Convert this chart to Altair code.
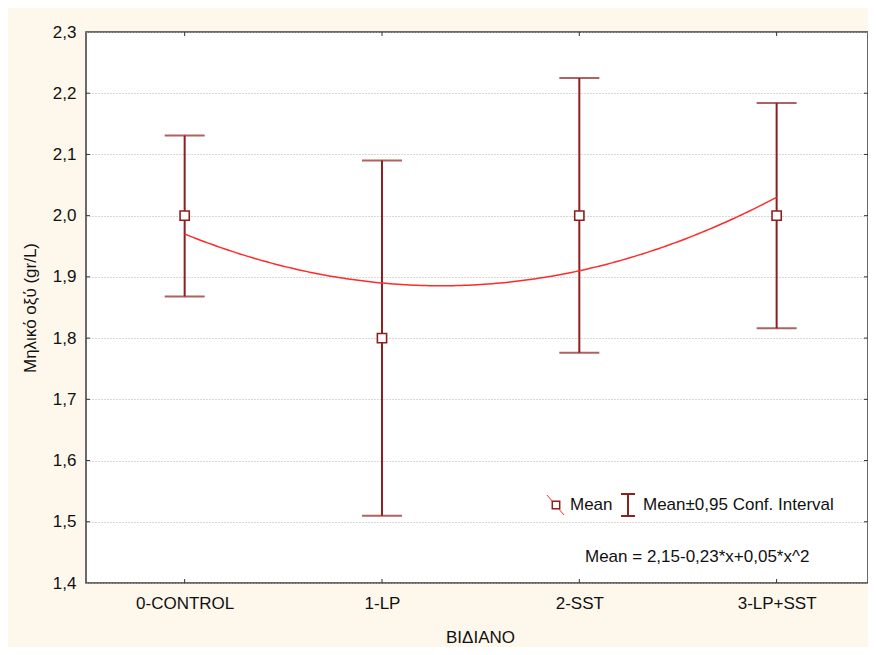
import altair as alt
import pandas as pd

categories = ["0-CONTROL", "1-LP", "2-SST", "3-LP+SST"]
codes = [1, 2, 3, 4]
means = [2.0, 1.8, 2.0, 2.0]
lower = [1.868, 1.51, 1.776, 1.816]
upper = [2.131, 2.09, 2.225, 2.184]
coef = [2.15, -0.23, 0.05]  # Mean = c0 + c1*x + c2*x^2
y_ticks = [1.4, 1.5, 1.6, 1.7, 1.8, 1.9, 2.0, 2.1, 2.2, 2.3]
inner_ticks = [1.5, 1.6, 1.7, 1.8, 1.9, 2.0, 2.1, 2.2]

FONT = "Liberation Sans"
DARK = "#8E1F1F"
RED = "#FF2A2A"
BG = "#FEF8EC"
FS = 17
W, H = 782, 551

df = pd.DataFrame({"code": codes, "cat": categories, "mean": means,
                   "lo": lower, "hi": upper})
dft = pd.DataFrame({"v": inner_ticks})

label_arr = "[" + ",".join(f"'{c}'" for c in categories) + "]"
xscale = alt.Scale(domain=[0.5, 4.463], nice=False, zero=False)
yscale = alt.Scale(domain=[1.4, 2.3], nice=False, zero=False)

xaxis = alt.Axis(values=codes, labelExpr=f"{label_arr}[datum.value-1]",
                 title="ΒΙΔΙΑΝΟ", grid=False, ticks=False, domain=False,
                 labelPadding=12, titleY=54, titleBaseline="middle",
                 labelFont=FONT, titleFont=FONT, labelFontSize=FS, titleFontSize=FS,
                 titleFontWeight="normal", labelColor="#111", titleColor="#111",
                 titleX=394)
yaxis = alt.Axis(values=y_ticks, format=".1f",
                 labelExpr="replace(datum.label, '.', ',')",
                 title="Μηλικό οξύ (gr/L)", grid=True, gridDash=[1, 2],
                 gridColor="#B0B0B0", gridWidth=1, ticks=False, domain=False,
                 labelPadding=10, titleX=-56, titleY=275.5, titleAngle=-90,
                 titleBaseline="middle", titleAlign="center",
                 labelFont=FONT, titleFont=FONT, labelFontSize=FS, titleFontSize=FS,
                 titleFontWeight="normal", labelColor="#111", titleColor="#111")

base = alt.Chart(df)

rules = base.mark_rule(color=DARK, strokeWidth=2).encode(
    x=alt.X("code:Q", scale=xscale, axis=xaxis),
    y=alt.Y("lo:Q", scale=yscale, axis=yaxis),
    y2="hi:Q",
)
cap_lo = base.mark_tick(color=DARK, orient="horizontal", size=40, thickness=2).encode(
    x="code:Q", y="lo:Q")
cap_hi = base.mark_tick(color=DARK, orient="horizontal", size=40, thickness=2).encode(
    x="code:Q", y="hi:Q")

curve = alt.Chart(alt.sequence(1, 4.001, 0.02, as_="x")).transform_calculate(
    y=f"{coef[0]} + ({coef[1]})*datum.x + ({coef[2]})*datum.x*datum.x"
).mark_line(color=RED, strokeWidth=1.5).encode(x="x:Q", y="y:Q")

pts = base.mark_point(shape="square", size=85, filled=True, fill="white",
                      stroke=DARK, strokeWidth=1.6, opacity=1).encode(
    x="code:Q", y="mean:Q")

# inward axis ticks
TK = "#333333"
t_bot = base.mark_rule(color=TK, strokeWidth=1).encode(
    x="code:Q", y=alt.value(H), y2=alt.value(H - 4))
t_top = base.mark_rule(color=TK, strokeWidth=1).encode(
    x="code:Q", y=alt.value(0), y2=alt.value(4))
t_left = alt.Chart(dft).mark_rule(color=TK, strokeWidth=1).encode(
    y="v:Q", x=alt.value(0), x2=alt.value(4))
t_right = alt.Chart(dft).mark_rule(color=TK, strokeWidth=1).encode(
    y="v:Q", x=alt.value(W - 4), x2=alt.value(W))

one = alt.Chart(pd.DataFrame({"a": [0]}))

def fmt(v):
    return f"{abs(v):.2f}".replace(".", ",")

formula = (f"Mean = {fmt(coef[0])}-{fmt(coef[1])}*x+{fmt(coef[2])}*x^2")

leg_line = one.mark_rule(color=RED, strokeWidth=1).encode(
    x=alt.value(461), y=alt.value(463), x2=alt.value(478), y2=alt.value(483))
leg_sq = one.mark_point(shape="square", size=55, filled=True, fill="white",
                        stroke=DARK, strokeWidth=1.5, opacity=1).encode(
    x=alt.value(470), y=alt.value(473))
leg_txt1 = one.mark_text(align="left", baseline="middle", font=FONT, fontSize=FS,
                         color="#111").encode(
    x=alt.value(484), y=alt.value(473), text=alt.value("Mean"))
leg_ib = one.mark_rule(color=DARK, strokeWidth=2).encode(
    x=alt.value(542), y=alt.value(462), y2=alt.value(484))
leg_ib_t = one.mark_rule(color=DARK, strokeWidth=2).encode(
    x=alt.value(535), x2=alt.value(549), y=alt.value(462))
leg_ib_b = one.mark_rule(color=DARK, strokeWidth=2).encode(
    x=alt.value(535), x2=alt.value(549), y=alt.value(484))
leg_txt2 = one.mark_text(align="left", baseline="middle", font=FONT, fontSize=FS,
                         color="#111").encode(
    x=alt.value(557), y=alt.value(473), text=alt.value("Mean±0,95 Conf. Interval"))
form_txt = one.mark_text(align="left", baseline="middle", font=FONT, fontSize=FS,
                         color="#111").encode(
    x=alt.value(499), y=alt.value(525), text=alt.value(formula))

chart = alt.layer(
    rules, cap_lo, cap_hi, curve, pts, t_bot, t_top, t_left, t_right,
    leg_line, leg_sq, leg_txt1, leg_ib, leg_ib_t, leg_ib_b, leg_txt2, form_txt
).properties(
    width=W, height=H,
    autosize=alt.AutoSizeParams(type="none"),
    padding={"left": 78, "top": 24, "right": 0, "bottom": 64},
    background=BG,
).configure_view(
    fill="white", stroke="#3A3A3A", strokeWidth=1.5
)

chart.save("out.html", embed_options={"renderer": "svg", "actions": False})
